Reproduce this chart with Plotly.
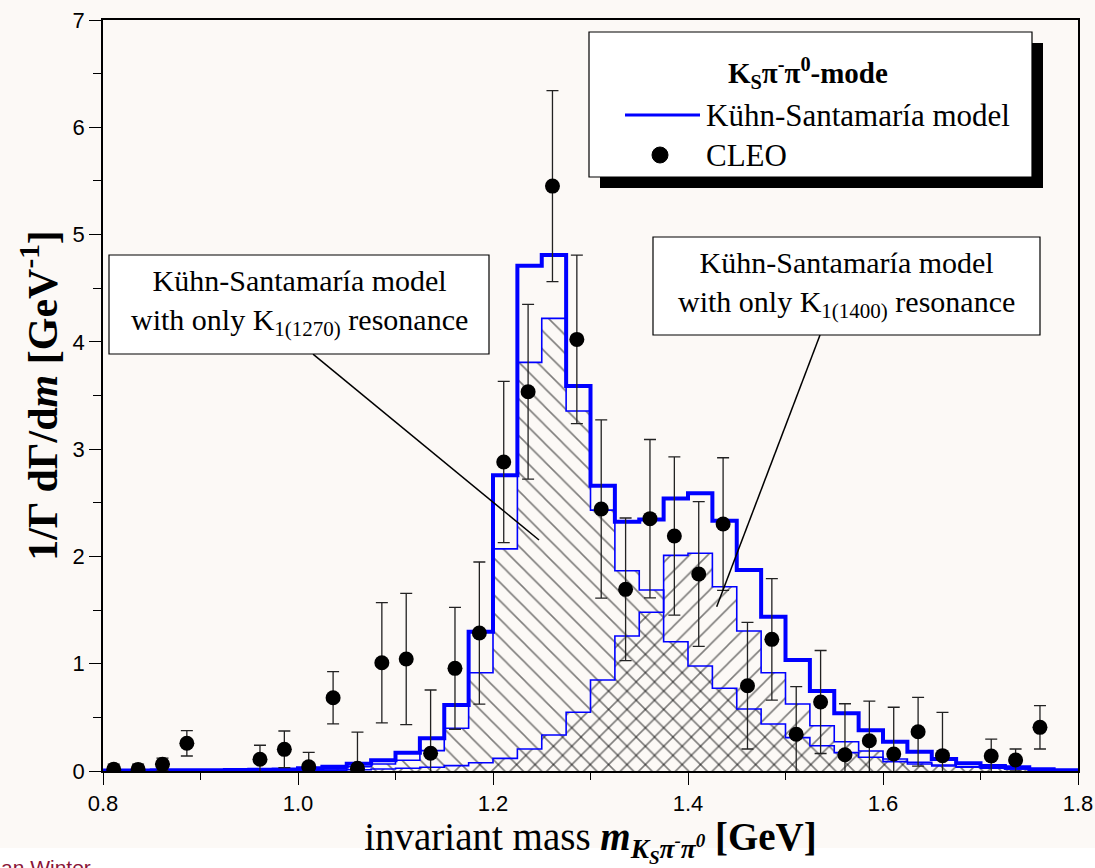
import plotly.graph_objects as go

# ---------------------------------------------------------------------------
# Histogram binning: 40 bins of 25 MeV between 0.8 and 1.8 GeV
# ---------------------------------------------------------------------------
BIN_START = 0.8
BIN_WIDTH = 0.025

# Full Kühn-Santamaría model (1/Γ dΓ/dm per bin)
model_total = [
    0.005, 0.005, 0.006, 0.007, 0.008, 0.010, 0.012, 0.015,
    0.025, 0.040, 0.068, 0.100, 0.170, 0.305, 0.615, 1.298,
    2.756, 4.709, 4.809, 3.588, 2.659, 2.323, 2.345, 2.541,
    2.588, 2.333, 1.873, 1.438, 1.034, 0.746, 0.538, 0.380,
    0.273, 0.180, 0.112, 0.072, 0.047, 0.034, 0.016, 0.006,
]

# Model with only the K1(1270) resonance
model_k1270 = [
    0.003, 0.003, 0.003, 0.004, 0.004, 0.005, 0.006, 0.008,
    0.010, 0.020, 0.040, 0.065, 0.100, 0.190, 0.398, 0.916,
    2.070, 3.809, 4.219, 3.355, 2.432, 1.867, 1.687, 1.205,
    0.979, 0.771, 0.578, 0.438, 0.311, 0.236, 0.171, 0.128,
    0.087, 0.065, 0.047, 0.035, 0.025, 0.018, 0.012, 0.008,
]

# Model with only the K1(1400) resonance
model_k1400 = [
    0.002, 0.002, 0.002, 0.002, 0.003, 0.003, 0.004, 0.004,
    0.005, 0.008, 0.012, 0.018, 0.025, 0.035, 0.050, 0.077,
    0.118, 0.205, 0.336, 0.547, 0.848, 1.258, 1.479, 2.010,
    2.030, 1.718, 1.305, 0.916, 0.624, 0.422, 0.273, 0.186,
    0.112, 0.081, 0.056, 0.040, 0.030, 0.020, 0.012, 0.008,
]

# CLEO measurement
cleo_mass = [
    0.811, 0.836, 0.861, 0.886, 0.961, 0.986, 1.011, 1.036, 1.061,
    1.086, 1.111, 1.136, 1.161, 1.186, 1.211, 1.236, 1.261, 1.286,
    1.311, 1.336, 1.361, 1.386, 1.411, 1.436, 1.461, 1.486, 1.511,
    1.536, 1.561, 1.586, 1.611, 1.636, 1.661, 1.711, 1.736, 1.761,
]
cleo_value = [
    0.016, 0.015, 0.062, 0.258, 0.109, 0.202, 0.040, 0.683, 0.025,
    1.009, 1.044, 0.165, 0.957, 1.286, 2.880, 3.535, 5.452, 4.023,
    2.442, 1.693, 2.352, 2.190, 1.836, 2.302, 0.795, 1.227, 0.342,
    0.643, 0.152, 0.282, 0.158, 0.366, 0.143, 0.140, 0.103, 0.407,
]
cleo_error = [
    0.049, 0.050, 0.058, 0.118, 0.131, 0.171, 0.134, 0.243, 0.338,
    0.561, 0.612, 0.590, 0.568, 0.662, 0.752, 0.815, 0.890, 0.786,
    0.830, 0.665, 0.738, 0.737, 0.675, 0.618, 0.590, 0.567, 0.444,
    0.480, 0.475, 0.370, 0.436, 0.321, 0.404, 0.158, 0.102, 0.202,
]

x_ticks = [0.8, 1.0, 1.2, 1.4, 1.6, 1.8]
x_tick_text = ["0.8", "1.0", "1.2", "1.4", "1.6", "1.8"]
y_ticks = [0, 1, 2, 3, 4, 5, 6, 7]

# ---------------------------------------------------------------------------
SERIF = "Liberation Serif, Times New Roman, serif"
SANS = "Liberation Sans, Arial, sans-serif"
BLUE = "#0000ff"
CREAM = "#fcf9f6"

W, H = 1095, 868
ML, MR, MT, MB = 103, 17, 20, 97
PW, PH = W - ML - MR, H - MT - MB


def px_x(px):
    return (px - ML) / PW


def px_y(py):
    return (H - MB - py) / PH


n_bins = len(model_total)
edges = [BIN_START + BIN_WIDTH * i for i in range(n_bins + 1)]
centers = [BIN_START + BIN_WIDTH * (i + 0.5) for i in range(n_bins)]


def step_xy(values):
    return edges, list(values) + [values[-1]]


fig = go.Figure()

# hatched single-resonance histograms
for vals, shape in ((model_k1270, "\\"), (model_k1400, "/")):
    fig.add_trace(go.Bar(
        x=centers, y=vals, width=BIN_WIDTH,
        marker=dict(
            color="rgba(0,0,0,0)",
            line=dict(width=0),
            pattern=dict(shape=shape, fgcolor="black", bgcolor="rgba(0,0,0,0)",
                         size=13, solidity=0.12, fillmode="overlay"),
        ),
        hoverinfo="skip", showlegend=False,
    ))

# outlines of the single-resonance histograms
for vals in (model_k1270, model_k1400):
    sx, sy = step_xy(vals)
    fig.add_trace(go.Scatter(x=sx, y=sy, mode="lines", line_shape="hv",
                             line=dict(color=BLUE, width=1.6),
                             hoverinfo="skip", showlegend=False))

# full model
sx, sy = step_xy(model_total)
fig.add_trace(go.Scatter(x=sx, y=sy, mode="lines", line_shape="hv",
                         line=dict(color=BLUE, width=4),
                         name="Kühn-Santamaría model", showlegend=False))

# CLEO data with error bars
fig.add_trace(go.Scatter(
    x=cleo_mass, y=cleo_value, mode="markers",
    marker=dict(color="black", size=15),
    error_y=dict(type="data", array=cleo_error, symmetric=True,
                 color="#222222", thickness=1.3, width=6),
    name="CLEO", showlegend=False,
))

shapes = []
annotations = []

# white strip at the bottom of the page
shapes.append(dict(type="rect", xref="paper", yref="paper",
                   x0=px_x(-5), x1=px_x(W + 5), y0=px_y(H + 5), y1=px_y(848),
                   fillcolor="white", line=dict(width=0), layer="below"))

# legend box with drop shadow
lx0, ly0, lx1, ly1 = 589, 32, 1032, 177
shapes.append(dict(type="rect", xref="paper", yref="paper",
                   x0=px_x(lx0 + 11), x1=px_x(lx1 + 11), y0=px_y(ly1 + 11), y1=px_y(ly0 + 11),
                   fillcolor="black", line=dict(width=0)))
shapes.append(dict(type="rect", xref="paper", yref="paper",
                   x0=px_x(lx0), x1=px_x(lx1), y0=px_y(ly1), y1=px_y(ly0),
                   fillcolor="white", line=dict(color="black", width=1.2)))
shapes.append(dict(type="line", xref="paper", yref="paper",
                   x0=px_x(625), x1=px_x(700), y0=px_y(115), y1=px_y(115),
                   line=dict(color=BLUE, width=3)))
shapes.append(dict(type="circle", xref="paper", yref="paper",
                   x0=px_x(652), x1=px_x(668), y0=px_y(163), y1=px_y(147),
                   fillcolor="black", line=dict(color="black", width=1)))
annotations.append(dict(xref="paper", yref="paper", x=px_x(808), y=px_y(73),
                        xanchor="center", yanchor="middle", showarrow=False,
                        text="<b>K<sub>S</sub>π<sup>-</sup>π<sup>0</sup>-mode</b>",
                        font=dict(family=SERIF, size=29, color="black")))
annotations.append(dict(xref="paper", yref="paper", x=px_x(704), y=px_y(115),
                        xanchor="left", yanchor="middle", showarrow=False,
                        text="Kühn-Santamaría model",
                        font=dict(family=SERIF, size=31, color="black")))
annotations.append(dict(xref="paper", yref="paper", x=px_x(704), y=px_y(155),
                        xanchor="left", yanchor="middle", showarrow=False,
                        text="CLEO",
                        font=dict(family=SERIF, size=31, color="black")))

# labelled boxes pointing to the single-resonance histograms
boxes = [
    ((109, 255, 489, 354), "K<sub>1(1270)</sub>", (1.0154, 3.886), (1.2472, 2.153)),
    ((653, 237, 1040, 335), "K<sub>1(1400)</sub>", (1.5354, 4.063), (1.4294, 1.531)),
]
for (bx0, by0, bx1, by1), res, (ax0, ay0), (ax1, ay1) in boxes:
    shapes.append(dict(type="line", xref="x", yref="y", x0=ax0, y0=ay0, x1=ax1, y1=ay1,
                       line=dict(color="black", width=1.5)))
    shapes.append(dict(type="rect", xref="paper", yref="paper",
                       x0=px_x(bx0), x1=px_x(bx1), y0=px_y(by1), y1=px_y(by0),
                       fillcolor="white", line=dict(color="black", width=1.2)))
    annotations.append(dict(xref="paper", yref="paper",
                            x=px_x((bx0 + bx1) / 2), y=px_y((by0 + by1) / 2 - 2),
                            xanchor="center", yanchor="middle", showarrow=False, align="center",
                            text="Kühn-Santamaría model<br>with only " + res + " resonance",
                            font=dict(family=SERIF, size=30, color="black")))

# footer text
annotations.append(dict(xref="paper", yref="paper", x=px_x(-1), y=px_y(854),
                        xanchor="left", yanchor="top", showarrow=False,
                        text="an Winter",
                        font=dict(family=SANS, size=21, color="#8a1538")))

axis_common = dict(
    showgrid=False, zeroline=False, showline=True, linecolor="black", linewidth=1.5,
    mirror=True, ticks="outside", tickcolor="black", tickwidth=1.3, automargin=False,
    tickfont=dict(family=SANS, size=22, color="black"), layer="below traces",
)

fig.update_layout(
    width=W, height=H,
    margin=dict(l=ML, r=MR, t=MT, b=MB, pad=0, autoexpand=False),
    paper_bgcolor=CREAM, plot_bgcolor=CREAM,
    barmode="overlay", bargap=0,
    showlegend=False,
    shapes=shapes, annotations=annotations,
    xaxis=dict(
        range=[0.8, 1.8], tickvals=x_ticks, ticktext=x_tick_text, ticklen=12,
        minor=dict(dtick=0.1, ticks="outside", ticklen=7, tickcolor="black", tickwidth=1.3),
        title=dict(
            text="invariant mass <b><i>m</i></b><sub><b><i>K<sub>S</sub>π<sup>-</sup>π<sup>0</sup></i></b></sub> <b>[GeV]</b>",
            font=dict(family=SERIF, size=39, color="black"), standoff=4,
        ),
        **axis_common,
    ),
    yaxis=dict(
        range=[0, 7], tickvals=y_ticks, ticklen=12,
        minor=dict(dtick=0.5, ticks="outside", ticklen=8, tickcolor="black", tickwidth=1.3),
        title=dict(
            text="<b>1/Γ dΓ/d<i>m</i> [GeV<sup>-1</sup>]</b>",
            font=dict(family=SERIF, size=42, color="black"), standoff=2,
        ),
        **axis_common,
    ),
)

fig.write_html("out.html")
